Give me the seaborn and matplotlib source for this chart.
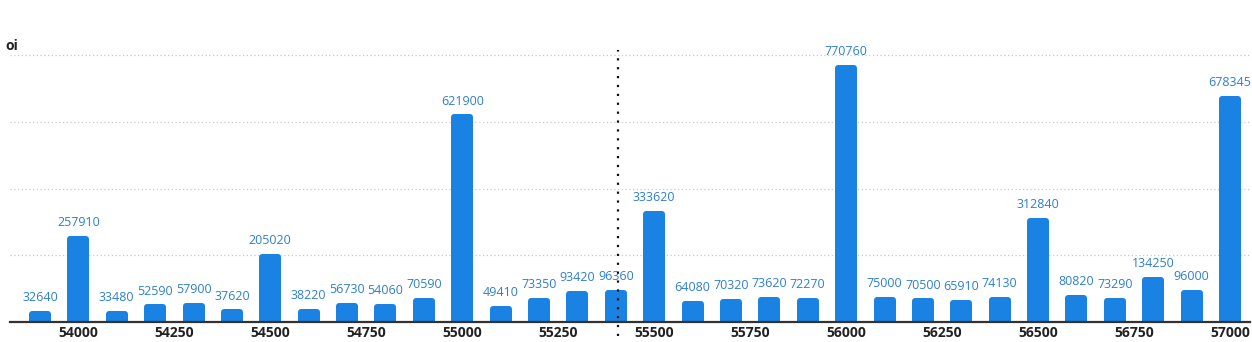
import matplotlib
matplotlib.use("Agg")
import matplotlib.pyplot as plt
import seaborn as sns
import pandas as pd

strikes = [53900, 54000, 54100, 54200, 54300, 54400, 54500, 54600, 54700, 54800,
           54900, 55000, 55100, 55200, 55300, 55400, 55500, 55600, 55700, 55800,
           55900, 56000, 56100, 56200, 56300, 56400, 56500, 56600, 56700, 56800,
           56900, 57000]
oi = [32640, 257910, 33480, 52590, 57900, 37620, 205020, 38220, 56730, 54060,
      70590, 621900, 49410, 73350, 93420, 96360, 333620, 64080, 70320, 73620,
      72270, 770760, 75000, 70500, 65910, 74130, 312840, 80820, 73290, 134250,
      96000, 678345]
xticks = [54000, 54250, 54500, 54750, 55000, 55250, 55500, 55750, 56000,
          56250, 56500, 56750, 57000]
spot = 55405
yticks = [200000, 400000, 600000, 800000]

df = pd.DataFrame({"strike": strikes, "oi": oi})

sns.set_theme(style="white")
plt.rcParams["font.family"] = ["Open Sans", "DejaVu Sans"]

W, H = 1252, 342
fig = plt.figure(figsize=(W / 100, H / 100), dpi=100)
ax = fig.add_axes([10 / W, 20 / H, 1240 / W, 272 / H])

xmin, xmax = 53822, 57052
ymax = 815000
xpp = (xmax - xmin) / 1240
ypp = ymax / 272
step = 100

bar_color = "#1a82e3"
edge_px = 6
# seaborn's width with native_scale is a fraction of the spacing between strikes
sns.barplot(data=df, x="strike", y="oi", native_scale=True,
            width=(22 - edge_px) * xpp / step,
            color=bar_color, saturation=1, ax=ax, zorder=2)

ax.set_xlim(xmin, xmax)
ax.set_ylim(0, ymax)

# rounded tops via thick round-joined edges
for p in ax.patches:
    h = p.get_height()
    p.set_height(h - (edge_px / 2) * ypp)
    p.set_edgecolor(bar_color)
    p.set_linewidth(edge_px * 0.72)
    p.set_joinstyle("round")
    p.set_clip_on(True)

for s, v in zip(strikes, oi):
    ax.annotate(f"{v}", (s, v), xytext=(0, 5), textcoords="offset points",
                ha="center", va="bottom", fontsize=9, color="#2d7fcc", zorder=4)

ax.set_yticks(yticks)
ax.set_yticklabels([])
ax.tick_params(axis="y", length=0)
ax.yaxis.grid(True, linestyle=(0, (1, 2)), color="#c8c8c8", linewidth=0.9)
ax.set_axisbelow(True)

ax.set_xticks(xticks)
ax.set_xticklabels([str(t) for t in xticks], fontsize=10, fontweight="bold",
                   color="#222222")
ax.tick_params(axis="x", length=0, pad=3)
ax.set_xlabel("")
ax.set_ylabel("")

for side in ["top", "right", "left"]:
    ax.spines[side].set_visible(False)
ax.spines["bottom"].set_color("#333333")
ax.spines["bottom"].set_linewidth(1.6)
ax.spines["bottom"].set_zorder(5)

ax.axvline(spot, ymin=-0.052, ymax=1.0, color="#111111", linestyle=(0, (1, 3)),
           linewidth=1.6, clip_on=False, zorder=6)

fig.text(5 / W, 1 - 46 / H, "oi", fontsize=10, fontweight="bold",
         color="#222222", ha="left", va="center")

fig.savefig("out.png", dpi=100, facecolor="white")
